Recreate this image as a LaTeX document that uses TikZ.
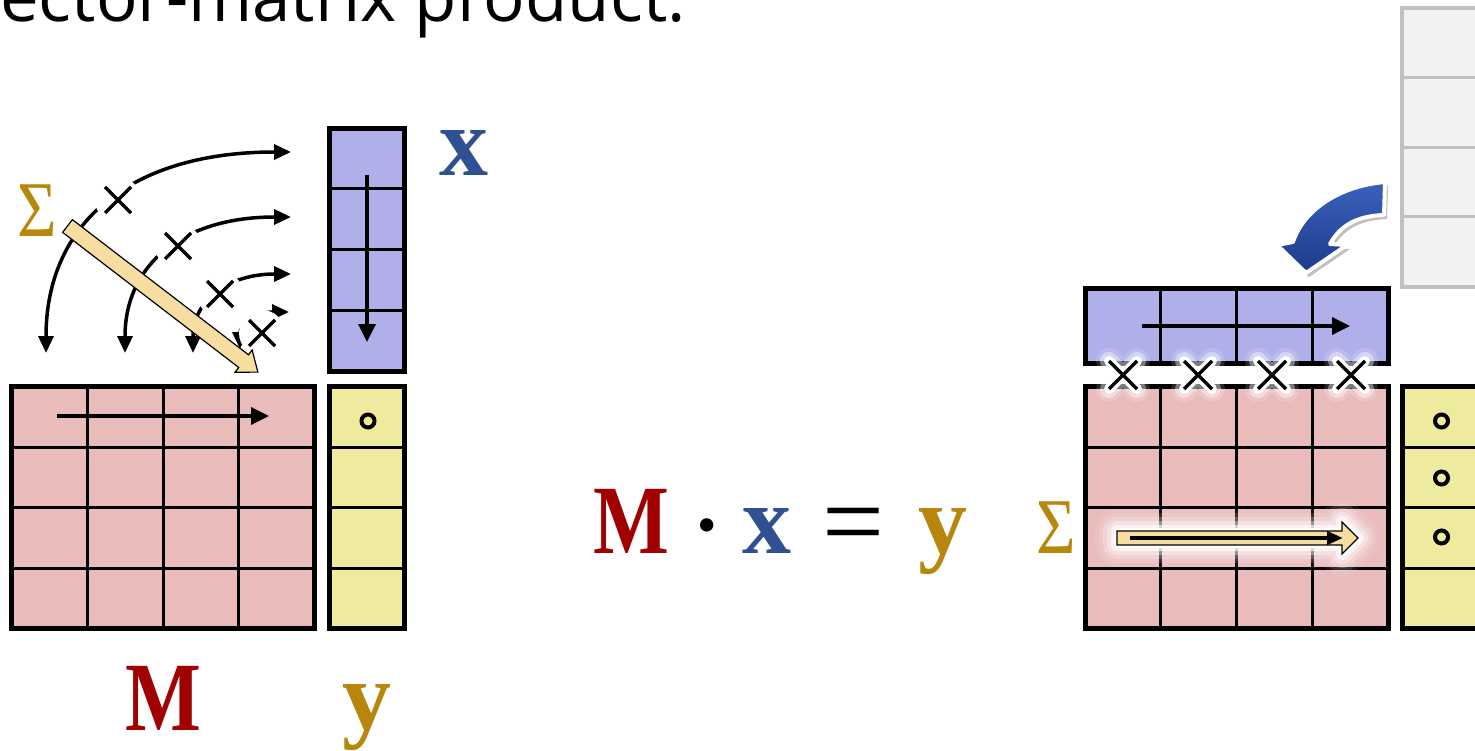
\documentclass[tikz,border=0pt]{standalone}
\usepackage{fontspec}
\usepackage{graphicx}
\setmainfont{Liberation Serif}
\newfontfamily\titlefont{Open Sans}
\usetikzlibrary{arrows.meta}
\definecolor{mpink}{RGB}{234,187,187}
\definecolor{xblue}{RGB}{175,175,233}
\definecolor{yyel}{RGB}{238,234,158}
\definecolor{arrtan}{RGB}{248,221,160}
\definecolor{labred}{RGB}{160,0,0}
\definecolor{labblue}{RGB}{47,80,145}
\definecolor{labgold}{RGB}{184,134,11}
\definecolor{tblgray}{RGB}{242,242,242}
\definecolor{tblline}{RGB}{192,192,192}
\definecolor{arrblueA}{RGB}{30,58,140}
\definecolor{arrblueB}{RGB}{58,98,188}
\tikzset{
  cellin/.style={line width=3pt,draw=black},
  cellout/.style={line width=5pt,draw=black},
  flowarr/.style={line width=3.5pt,-{Triangle[length=18pt,width=17pt]}},
  arcarr/.style={line width=3.5pt,{Triangle[length=17pt,width=15pt]}-{Triangle[length=17pt,width=15pt]}},
  crossmark/.style={line width=3.5pt,draw=black},
  glowA/.style={draw=white,line width=26pt,opacity=.15,line cap=round,line join=round},
  glowB/.style={draw=white,line width=18pt,opacity=.4,line cap=round,line join=round},
  glowC/.style={draw=white,line width=10pt,line cap=round,line join=round},
  bigletter/.style={inner sep=0pt,font=\fontsize{98}{100}\selectfont\bfseries},
  sigmalabel/.style={inner sep=0pt,text=labgold,font=\fontsize{79}{80}\selectfont},
  ringmark/.style={line width=4pt,draw=black},
  tanarrow/.style={fill=arrtan,draw=black,line width=1.2pt,line join=miter},
  haloline/.style={draw=white,line join=round,line cap=round},
}
\begin{document}
\begin{tikzpicture}[x=1pt,y=-1pt]
\useasboundingbox (0,0) rectangle (1475,751);

% ---------- title ----------
\node[anchor=base east,inner sep=0pt,font=\titlefont\fontsize{69}{70}\selectfont] (title) at (686,22) {ector-matrix product.};

% ---------- grey table (top right) ----------
\fill[tblgray] (1402,8) rectangle (1530,287);
\foreach \r in {78,148,217} \draw[tblline,line width=3pt] (1402,\r) -- (1530,\r);
\draw[tblline,line width=3.5pt] (1530,8) -- (1402,8) -- (1402,287) -- (1530,287);

% ---------- left matrix M ----------
\fill[mpink] (11,386) rectangle (314,628);
\foreach \c in {87,163,238} \draw[cellin] (\c,386) -- (\c,628);
\foreach \r in {447,507,568} \draw[cellin] (11,\r) -- (314,\r);
\draw[cellout] (11,386) rectangle (314,628);
\coordinate (mrowA) at (57,416);
\coordinate (mrowB) at (269,416);
\draw[flowarr] (mrowA) -- (mrowB);

% ---------- left vector x ----------
\fill[xblue] (329,129) rectangle (404,371);
\foreach \r in {189,250,311} \draw[cellin] (329,\r) -- (404,\r);
\draw[cellout] (329,129) rectangle (404,371);
\coordinate (xcolA) at (367,175);
\coordinate (xcolB) at (367,342);
\draw[flowarr] (xcolA) -- (xcolB);

% ---------- left vector y ----------
\fill[yyel] (329,386) rectangle (404,628);
\foreach \r in {447,507,568} \draw[cellin] (329,\r) -- (404,\r);
\draw[cellout] (329,386) rectangle (404,628);
\coordinate (ringL) at (368,421);
\draw[ringmark] (ringL) circle[radius=6.5pt];

% ---------- arcs with crosses ----------
\coordinate (arcAbot) at (46,353);   \coordinate (arcAtop) at (291,152);
\coordinate (arcBbot) at (125,353);  \coordinate (arcBtop) at (291,217);
\coordinate (arcCbot) at (193,353);  \coordinate (arcCtop) at (291,274);
\coordinate (arcDbot) at (240,349);  \coordinate (arcDtop) at (289,312);
\draw[arcarr] (arcAbot) .. controls (46,222) and (131.4,152) .. (arcAtop);
\draw[arcarr] (arcBbot) .. controls (125,264.3) and (182.8,217) .. (arcBtop);
\draw[arcarr] (arcCbot) .. controls (193,301.3) and (227,274) .. (arcCtop);
\draw[arcarr] (arcDbot) .. controls (240,324.6) and (256.8,312) .. (arcDtop);
\foreach \cx/\cy in {118/200,178/246,220/294,262/333}{
  \fill[white] (\cx,\cy) circle[radius=23pt];
  \draw[crossmark,shift={(\cx,\cy)}] (-13,-13) -- (13,13) (-13,13) -- (13,-13);
}

% ---------- diagonal tan arrow ----------
\coordinate (diagA) at (67.5,226);
\begin{scope}[shift={(diagA)},rotate=-37.5]
  \draw[tanarrow] (0,-8) -- (222,-8) -- (222,-14) -- (240,0) -- (222,14) -- (222,8) -- (0,8) -- cycle;
\end{scope}

% ---------- left labels ----------
\node[sigmalabel,anchor=center] (sigL) at (37,211) {\scalebox{0.86}[1]{Σ}};
\node[bigletter,text=labblue,anchor=base] (labx) at (463.5,176) {x};
\node[bigletter,text=labred,anchor=base] (labM) at (163.5,730) {\scalebox{0.82}[1]{M}};
\node[bigletter,text=labgold,anchor=base] (laby) at (367,729) {y};

% ---------- equation ----------
\node[bigletter,text=labred,anchor=base] (eqM) at (631,553) {\scalebox{0.82}[1]{M}};
\node[inner sep=0pt,font=\fontsize{82}{84}\selectfont\bfseries,anchor=base] (eqdot) at (707,552) {·};
\node[bigletter,text=labblue,anchor=base] (eqx) at (767,553) {x};
\node[inner sep=0pt,font=\fontsize{110}{112}\selectfont,anchor=base] (eqeq) at (854,558) {=};
\node[bigletter,text=labgold,anchor=base] (eqy) at (943,553) {y};

% ---------- right vector x (horizontal) ----------
\fill[xblue] (1085,289) rectangle (1388,363);
\foreach \c in {1160,1236,1312} \draw[cellin] (\c,289) -- (\c,363);
\draw[cellout] (1085,289) rectangle (1388,363);
\coordinate (xrowA) at (1142,326);
\coordinate (xrowB) at (1350,326);
\draw[flowarr] (xrowA) -- (xrowB);

% ---------- right matrix M ----------
\fill[mpink] (1085,386) rectangle (1388,628);
\foreach \c in {1160,1236,1312} \draw[cellin] (\c,386) -- (\c,628);
\foreach \r in {447,507,568} \draw[cellin] (1085,\r) -- (1388,\r);
\draw[cellout] (1085,386) rectangle (1388,628);

% ---------- right vector y ----------
\fill[yyel] (1402,386) rectangle (1530,628);
\foreach \r in {447,507,568} \draw[cellin] (1402,\r) -- (1530,\r);
\draw[cellout] (1530,386) -- (1402,386) -- (1402,628) -- (1530,628);
\foreach \cy in {421,478,537} \draw[ringmark] (1441.5,\cy) circle[radius=6.5pt];

% ---------- crosses between x and M ----------
\foreach \cx in {1123,1198,1272,1351}{
  \path[glowA,shift={(\cx,375)}] (-14,-14) -- (14,14) (-14,14) -- (14,-14);
  \path[glowB,shift={(\cx,375)}] (-14,-14) -- (14,14) (-14,14) -- (14,-14);
  \path[glowC,shift={(\cx,375)}] (-14,-14) -- (14,14) (-14,14) -- (14,-14);
  \draw[crossmark,shift={(\cx,375)}] (-14,-14) -- (14,14) (-14,14) -- (14,-14);
}

% ---------- highlighted row arrow ----------
\foreach \w/\o in {44/.08,36/.12,28/.2,20/.35,12/.6,6/1}{
  \path[haloline,line width=\w pt,opacity=\o] (1117,531) -- (1342,531) -- (1342,522) -- (1358,538) -- (1342,554) -- (1342,545) -- (1117,545) -- cycle;
}
\draw[tanarrow] (1117,531) -- (1342,531) -- (1342,522) -- (1358,538) -- (1342,554) -- (1342,545) -- (1117,545) -- cycle;
\coordinate (hrowA) at (1130,538);
\coordinate (hrowB) at (1343,538);
\draw[line width=4.5pt,-{Triangle[length=16pt,width=13pt]}] (hrowA) -- (hrowB);
\node[sigmalabel,anchor=center] (sigR) at (1056,528) {\scalebox{0.86}[1]{Σ}};

% ---------- blue curved arrow ----------
\fill[black,opacity=.25,shift={(3,4)}] (1385,182) .. controls (1338,186) and (1303,211) .. (1293,242) -- (1277,245) -- (1306,273) -- (1347,245) -- (1330,244) .. controls (1340,226) and (1356,216) .. (1384,215) -- cycle;
\path[top color=arrblueB,bottom color=arrblueA,draw=white,line width=4pt,line join=round] (1385,182) .. controls (1338,186) and (1303,211) .. (1293,242) -- (1277,245) -- (1306,273) -- (1347,245) -- (1330,244) .. controls (1340,226) and (1356,216) .. (1384,215) -- cycle;
\end{tikzpicture}
\end{document}
